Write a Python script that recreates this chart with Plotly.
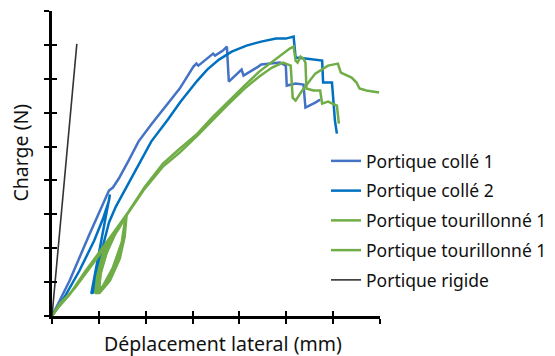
import plotly.graph_objects as go

# Data (x: displacement tick units, y: load tick units)
colle1_x = [0, 0.377, 0.797, 1.111, 1.216, 1.300, 1.426, 1.635, 1.845, 2.117, 2.411, 2.725, 3.019, 3.082, 3.124,
            3.375, 3.438, 3.480, 3.648, 3.732, 3.774, 4.046, 4.088, 4.403, 4.465, 4.864, 4.990, 5.010, 5.199,
            5.367, 5.409, 5.618, 5.723]
colle1_y = [0, 1.047, 2.404, 3.348, 3.702, 3.791, 4.056, 4.587, 5.147, 5.649, 6.150, 6.711, 7.360, 7.448, 7.389,
            7.655, 7.743, 7.684, 7.832, 7.950, 6.917, 7.271, 7.094, 7.360, 7.419, 7.478, 7.389, 6.799, 6.858,
            6.829, 6.150, 6.298, 6.386]

colle2_x = [0, 0.273, 0.587, 0.901, 1.090, 1.216, 1.237, 1.090, 0.922, 0.839, 0.881, 0.964, 1.090, 1.216,
            1.363, 1.740, 2.117, 2.474, 2.746, 3.103, 3.312, 3.564, 3.836, 4.151, 4.465, 4.780, 4.990, 5.157,
            5.199, 5.409, 5.765, 5.786, 5.975, 6.017, 6.038, 6.080]
colle2_y = [0, 0.575, 1.342, 2.227, 2.876, 3.407, 3.584, 2.522, 1.342, 0.664, 0.693, 1.342, 2.080, 2.758,
            3.230, 4.204, 5.147, 5.796, 6.327, 6.947, 7.271, 7.566, 7.802, 7.979, 8.097, 8.186, 8.186, 8.245,
            7.625, 7.596, 7.537, 6.888, 6.888, 6.150, 5.767, 5.383]

tour1_x = [0, 0.126, 0.377, 0.692, 1.006, 1.321, 1.593,
           1.509, 1.342, 1.132, 0.922, 0.964, 1.069, 1.258, 1.593,
           1.530, 1.405, 1.174, 0.964, 0.985, 1.111, 1.300, 1.593,
           1.551, 1.447, 1.237, 1.006, 1.027, 1.153, 1.342, 1.593,
           1.971, 2.369, 2.683, 3.103, 3.417, 3.732, 4.109, 4.423, 4.675, 4.906, 5.073, 5.157,
           5.199, 5.241, 5.304, 5.367, 5.409, 5.430, 5.577, 5.723, 5.765, 5.891, 6.080, 6.122]
tour1_y = [0, 0.236, 0.634, 1.283, 1.873, 2.463, 2.994,
           2.227, 1.519, 0.929, 0.664, 1.165, 1.755, 2.316, 2.994,
           2.286, 1.578, 0.959, 0.664, 1.106, 1.696, 2.345, 2.994,
           2.345, 1.696, 1.047, 0.664, 1.195, 1.814, 2.404, 2.994,
           3.791, 4.499, 4.882, 5.383, 5.855, 6.298, 6.799, 7.212, 7.478, 7.714, 7.891, 7.950,
           7.537, 7.478, 7.655, 7.596, 7.478, 6.711, 6.652, 6.652, 6.268, 6.327, 6.209, 5.678]

tour2_x = [0, 0.168, 0.482, 0.797, 1.111, 1.426, 1.572,
           1.488, 1.300, 1.069, 0.943, 1.006, 1.132, 1.342, 1.572,
           1.530, 1.384, 1.195, 0.985, 1.048, 1.195, 1.384, 1.572,
           1.950, 2.369, 2.725, 3.103, 3.417, 3.732, 4.109, 4.423, 4.696, 4.927, 4.990, 5.094,
           5.136, 5.199, 5.325, 5.472, 5.618, 5.891, 6.101, 6.164, 6.248, 6.394, 6.499, 6.562, 6.709, 6.981]
tour2_y = [0, 0.369, 0.811, 1.401, 1.962, 2.581, 2.935,
           2.168, 1.431, 0.841, 0.664, 1.283, 1.932, 2.463, 2.935,
           2.227, 1.578, 0.988, 0.664, 1.342, 1.991, 2.522, 2.935,
           3.702, 4.410, 4.823, 5.324, 5.767, 6.209, 6.711, 7.065, 7.330, 7.478, 7.448, 7.389,
           6.445, 6.357, 6.622, 6.888, 7.153, 7.389, 7.448, 7.183, 7.124, 7.035, 6.888, 6.711, 6.652, 6.593]

rigide_x = [0, 0.53]
rigide_y = [0, 8.03]

x_ticks = [0, 1, 2, 3, 4, 5, 6, 7]
y_ticks = [0, 1, 2, 3, 4, 5, 6, 7, 8, 9]

names = ["Portique collé 1", "Portique collé 2", "Portique tourillonné 1",
         "Portique tourillonné 1", "Portique rigide"]
colors = ["#4472C4", "#0070C0", "#70AD47", "#70AD47", "#333333"]
widths = [2.5, 2.5, 2.5, 2.5, 1.6]
xs = [colle1_x, colle2_x, tour1_x, tour2_x, rigide_x]
ys = [colle1_y, colle2_y, tour1_y, tour2_y, rigide_y]

fig = go.Figure()
for i in range(5):
    fig.add_trace(go.Scatter(x=xs[i], y=ys[i], mode="lines", name=names[i],
                             legendgroup="g%d" % i,
                             line=dict(color=colors[i], width=widths[i])))

FONT = "Noto Sans"
OFF = 8  # page body margin
W, H = 555 - OFF, 356 - OFF
L, R, T, B = 52 - OFF, 169, 11 - OFF, 40
pw, ph = W - L - R, H - T - B


def px_to_paper(px, py):
    return (px - OFF - L) / pw, 1 - (py - OFF - T) / ph


lx, ly = px_to_paper(331, 143)
ax_x, ax_y = px_to_paper(226, 343)
ay_x, ay_y = px_to_paper(19, 153)

fig.update_layout(
    width=W, height=H,
    margin=dict(l=L, r=R, t=T, b=B),
    paper_bgcolor="white", plot_bgcolor="white",
    font=dict(family=FONT, size=17, color="#111111"),
    showlegend=True,
    legend=dict(x=lx, y=ly, xanchor="left", yanchor="top",
                font=dict(family=FONT, size=17.5, color="#111111"),
                tracegroupgap=4, bgcolor="rgba(0,0,0,0)"),
    xaxis=dict(range=[0, 7], tickvals=x_ticks, ticks="outside", ticklen=5, tickwidth=2,
               tickcolor="black", showticklabels=False, showgrid=False, zeroline=False,
               showline=True, linecolor="black", linewidth=3, fixedrange=True),
    yaxis=dict(range=[0, 9], tickvals=y_ticks, ticks="outside", ticklen=5, tickwidth=2,
               tickcolor="black", showticklabels=False, showgrid=False, zeroline=False,
               showline=True, linecolor="black", linewidth=3, fixedrange=True),
    xaxis2=dict(range=[0, 7], tickvals=x_ticks, ticks="inside", ticklen=5, tickwidth=2,
                tickcolor="black", showticklabels=False, showgrid=False, zeroline=False,
                overlaying="x", side="bottom", showline=False),
    yaxis2=dict(range=[0, 9], tickvals=y_ticks, ticks="inside", ticklen=5, tickwidth=2,
                tickcolor="black", showticklabels=False, showgrid=False, zeroline=False,
                overlaying="y", side="left", showline=False),
    annotations=[
        dict(text="Déplacement lateral (mm)", x=ax_x, y=ax_y, xref="paper", yref="paper",
             xanchor="center", yanchor="middle", showarrow=False,
             font=dict(family=FONT, size=19.5, color="#111111")),
        dict(text="Charge (N)", x=ay_x, y=ay_y, xref="paper", yref="paper", textangle=-90,
             xanchor="center", yanchor="middle", showarrow=False,
             font=dict(family=FONT, size=19.5, color="#111111")),
    ],
)
# invisible helper trace so the overlaying tick axes are drawn
fig.add_trace(go.Scatter(x=[None], y=[None], xaxis="x2", yaxis="y2", showlegend=False,
                         hoverinfo="skip"))

fig.write_html("out.html")
